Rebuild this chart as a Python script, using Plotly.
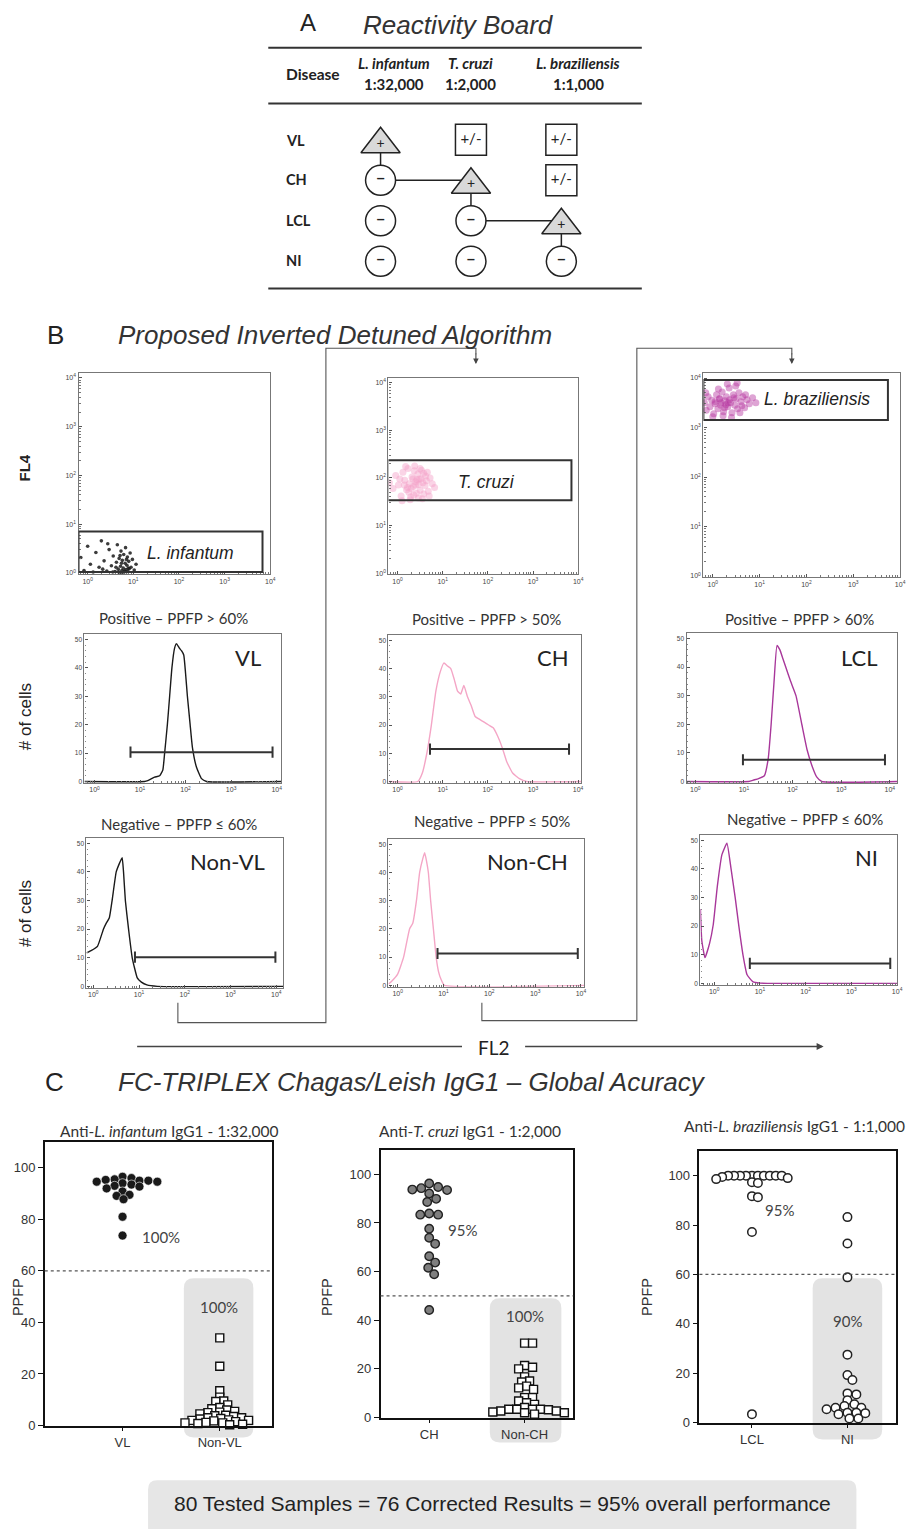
import plotly.graph_objects as go

# page has an 8px body margin: figure placed at (8,8) inside the 922x1529 window
OX, OY = 8, 8
FW, FH = 922 - OX, 1529 - OY

# ---------------- Panel A: reactivity board ----------------
board_rows = ["VL", "CH", "LCL", "NI"]
board_species = ["L. infantum", "T. cruzi", "L. braziliensis"]
board_dilutions = ["1:32,000", "1:2,000", "1:1,000"]
board_calls = [["+", "+/-", "+/-"],
               ["-", "+", "+/-"],
               ["-", "-", "+"],
               ["-", "-", "-"]]

# ---------------- Panel B: FL2 x FL4 dot plots (log10 units) ----------------
li_log_fl2 = [-0.15, -0.08, 0.0, 0.06, 0.12, 0.18, 0.25, 0.3, 0.36, 0.42, 0.47, 0.52, 0.56, 0.6, 0.63, 0.65, 0.67,
              0.69, 0.7, 0.72, 0.73, 0.75, 0.76, 0.78, 0.79, 0.8, 0.82, 0.83, 0.84, 0.86, 0.87, 0.88, 0.9, 0.91, 0.93,
              0.95, 0.98, 1.02, 1.06, 0.68, 0.74, 0.81, 0.85, 0.89, 0.71, 0.77, 0.62, 0.55, 0.44, 0.33]
li_log_fl4 = [0.32, 0.05, 0.55, 0.18, 0.02, 0.42, 0.12, 0.66, 0.25, 0.04, 0.48, 0.15, 0.35, 0.03, 0.22, 0.58, 0.08,
              0.3, 0.01, 0.14, 0.45, 0.05, 0.26, 0.1, 0.38, 0.02, 0.2, 0.52, 0.07, 0.16, 0.33, 0.03, 0.24, 0.09, 0.41,
              0.12, 0.28, 0.06, 0.18, 0.02, 0.2, 0.04, 0.28, 0.1, 0.36, 0.01, 0.12, 0.02, 0.6, 0.08]
tc_log_fl2 = [-0.18, -0.1, -0.04, 0.02, 0.08, 0.12, 0.16, 0.2, 0.23, 0.26, 0.29, 0.32, 0.35, 0.37, 0.4, 0.42, 0.45,
              0.47, 0.5, 0.52, 0.55, 0.58, 0.61, 0.64, 0.68, 0.72, 0.77, 0.82, 0.1, 0.18, 0.28, 0.38, 0.48, 0.58, 0.3,
              0.43, 0.53, 0.22, 0.34, 0.46, 0.62, 0.05, 0.25, 0.4, 0.56, 0.7, 0.15, 0.36, 0.5, 0.66]
tc_log_fl4 = [1.9, 1.78, 2.05, 1.85, 1.62, 2.12, 1.95, 1.75, 2.2, 1.88, 1.6, 2.02, 1.82, 2.15, 1.92, 1.68, 2.08, 1.86,
              1.74, 1.98, 1.56, 2.1, 1.84, 1.94, 1.72, 2.0, 1.88, 1.8, 1.52, 2.24, 1.54, 2.25, 1.98, 1.66, 1.78, 1.96,
              2.16, 1.8, 1.98, 1.58, 2.04, 1.98, 1.7, 1.85, 1.9, 1.62, 1.85, 1.64, 2.2, 2.12]
lb_log_fl2 = [-0.18, -0.14, -0.1, -0.06, -0.02, 0.02, 0.05, 0.08, 0.11, 0.14, 0.17, 0.2, 0.23, 0.26, 0.29, 0.32, 0.35,
              0.38, 0.41, 0.44, 0.47, 0.5, 0.53, 0.56, 0.6, 0.64, 0.68, 0.73, 0.78, 0.85, 0.92, -0.15, 0.0, 0.12, 0.22,
              0.31, 0.4, 0.49, 0.58, 0.7, 0.05, 0.18, 0.28, 0.36, 0.45, 0.25, 0.33, 0.15, 0.52, 0.62]
lb_log_fl4 = [3.5, 3.35, 3.62, 3.42, 3.55, 3.28, 3.48, 3.66, 3.38, 3.58, 3.45, 3.72, 3.32, 3.54, 3.62, 3.42, 3.8, 3.5,
              3.3, 3.66, 3.45, 3.58, 3.38, 3.7, 3.52, 3.62, 3.4, 3.56, 3.48, 3.6, 3.5, 3.7, 3.22, 3.78, 3.24, 3.88, 3.2,
              3.84, 3.3, 3.66, 3.52, 3.5, 3.46, 3.56, 3.6, 3.4, 3.5, 3.58, 3.9, 3.44]
# gates: (FL2 lo, FL2 hi, FL4 lo, FL4 hi) in log10 units
li_gate = (-0.2, 3.83, 0.02, 0.85)
tc_gate = (-0.22, 3.85, 1.53, 2.37)
lb_gate = (-0.2, 3.74, 3.15, 3.96)

# ---------------- Panel B: FL2 histograms (log10 FL2, # of cells) ----------------
vl_log_fl2 = [-0.22, 1.1, 1.17, 1.32, 1.43, 1.5, 1.54, 1.6, 1.65, 1.7, 1.76, 1.8, 1.86, 1.91, 1.96, 2.0, 2.04, 2.1,
              2.15, 2.24, 2.35, 2.46, 4.1]
vl_cells = [0, 0, 0.3, 1.5, 2, 4, 10, 20, 30, 40, 47, 48.5, 47, 46, 44.5, 38, 30, 20, 12, 5, 1, 0, 0]
ch_log_fl2 = [-0.2, 0.45, 0.55, 0.65, 0.75, 0.85, 0.95, 1.03, 1.1, 1.18, 1.26, 1.33, 1.4, 1.47, 1.55, 1.63, 1.72,
              1.82, 1.92, 2.02, 2.12, 2.22, 2.32, 2.42, 2.55, 2.7, 2.86, 4.07]
ch_cells = [0, 0, 3, 10, 20, 32, 39, 42, 41, 40, 36, 32, 31, 34, 30, 27, 23, 22, 21, 20, 19, 16, 12, 7, 3, 1, 0, 0]
lcl_log_fl2 = [-0.18, 1.1, 1.2, 1.3, 1.42, 1.5, 1.56, 1.62, 1.68, 1.74, 1.8, 1.86, 1.96, 2.07, 2.19, 2.3, 2.41, 2.5,
               2.6, 4.15]
lcl_cells = [0, 0, 0.5, 1, 2, 8, 20, 35, 47.5, 46, 43, 40, 35, 30, 20, 11, 5, 1.5, 0, 0]
nvl_log_fl2 = [-0.15, -0.05, 0.09, 0.22, 0.28, 0.35, 0.41, 0.5, 0.57, 0.63, 0.66, 0.7, 0.77, 0.85, 0.96, 1.05, 1.17,
               1.4, 4.15]
nvl_cells = [11.7, 12.5, 14, 20, 22, 24, 30, 40, 43, 45, 40, 30, 20, 10, 3, 1.5, 0.5, 0, 0]
nch_log_fl2 = [-0.2, -0.13, 0.0, 0.13, 0.26, 0.33, 0.41, 0.48, 0.55, 0.59, 0.63, 0.67, 0.72, 0.78, 0.84, 0.89, 0.95,
               1.02, 4.07]
nch_cells = [0.5, 1.5, 4, 10, 20, 22, 30, 40, 45, 47, 44, 40, 30, 20, 10, 5, 2, 0, 0]
ni_log_fl2 = [-0.3, -0.27, -0.2, -0.1, -0.02, 0.07, 0.17, 0.28, 0.37, 0.46, 0.54, 0.63, 0.72, 0.85, 1.0, 1.17, 4.0]
ni_cells = [26, 15, 9, 14, 20.5, 34, 45, 49, 40, 30, 20, 10, 3, 0.5, 0.1, 0, 0]
# histogram marker gates: (log10 FL2 lo, log10 FL2 hi, level)
vl_gate = (0.79, 3.91, 10.3)
ch_gate = (0.72, 3.8, 11.5)
lcl_gate = (0.98, 3.9, 7.6)
nvl_gate = (0.91, 3.98, 10.2)
nch_gate = (0.87, 3.93, 11.3)
ni_gate = (0.78, 3.85, 7.0)

# ---------------- Panel C: PPFP per group ----------------
vl_ppfp = [96.5, 96, 95.5, 95.3, 95, 95, 94.6, 94.6, 94, 93.5, 93, 92.7, 92, 90.8, 89.5, 89.1, 87.8, 81, 73.7]
nonvl_ppfp = [34, 23, 13.5, 11, 9.5, 9.3, 8, 7, 6.5, 6, 5.5, 5.2, 5, 4.5, 4, 3.8, 3.5, 3, 3, 2.7, 2.5, 2.2, 2, 2,
              1.8, 1.5, 1.2, 1, 1, 0.8, 0.5, 0.3]
ch_ppfp = [96.2, 94.8, 94.3, 93.7, 93.5, 92.1, 89.9, 88.6, 83.9, 83.4, 83.4, 77.6, 73.9, 71.4, 66.3, 63.7, 61.6,
           58.9, 44.2]
nonch_ppfp = [30.6, 30.6, 21.4, 20.7, 20, 16.7, 15, 14.6, 12.9, 12.2, 11.6, 8.2, 8.2, 6.8, 6.1, 5.4, 4.1, 3.4, 3.4,
              3.4, 3.4, 3.2, 2.7, 2.7, 2.3, 2, 2, 1.4]
lcl_ppfp = [100, 100, 100, 100, 100, 100, 100, 100, 100, 100, 99.5, 99, 98.6, 97.3, 97, 91.7, 91.3, 77.2, 3.4]
ni_ppfp = [83.2, 72.5, 58.8, 27.5, 19.2, 17.2, 11.8, 11.4, 9, 7.4, 6.7, 6, 6, 5.4, 4, 4, 3.8, 3.4, 1.6, 1.6]
cutoffs = [60, 50, 60]

CAL = "Lato, 'Open Sans', sans-serif"
ARI = "'Liberation Sans', Arial, sans-serif"

fig = go.Figure()
layout = {}
annotations = []
shapes = []


def PX(x):
    return (x - OX) / FW


def PY(y):
    return 1 - (y - OY) / FH


def ref(n, a):
    return a if n == 1 else f"{a}{n}"


def key(n, a):
    return f"{a}axis" if n == 1 else f"{a}axis{n}"


def dom(box):
    l, t, r, b = box
    return [PX(l), PX(r)], [PY(b), PY(t)]


def pa(x, y, text, size=12, family=CAL, color="#222", xanchor="center", yanchor="middle", angle=0):
    annotations.append(dict(x=PX(x), y=PY(y), xref="paper", yref="paper", text=text, showarrow=False,
                            font=dict(size=size, family=family, color=color), xanchor=xanchor,
                            yanchor=yanchor, textangle=angle))


def pline(pts, color="#555", width=1.2):
    path = "M " + " L ".join(f"{PX(x):.5f},{PY(y):.5f}" for x, y in pts)
    shapes.append(dict(type="path", path=path, xref="paper", yref="paper",
                       line=dict(color=color, width=width)))


def rrect(x0, y0, x1, y1, r, fill):
    def P(x, y):
        return f"{PX(x):.5f},{PY(y):.5f}"
    path = (f"M {P(x0 + r, y0)} L {P(x1 - r, y0)} Q {P(x1, y0)} {P(x1, y0 + r)} L {P(x1, y1 - r)} "
            f"Q {P(x1, y1)} {P(x1 - r, y1)} L {P(x0 + r, y1)} Q {P(x0, y1)} {P(x0, y1 - r)} "
            f"L {P(x0, y0 + r)} Q {P(x0, y0)} {P(x0 + r, y0)} Z")
    shapes.append(dict(type="path", path=path, xref="paper", yref="paper", fillcolor=fill,
                       line=dict(width=0), layer="below"))


decade_vals = [1, 10, 100, 1000, 10000]
decade_text = [f"10<sup>{i}</sup>" for i in range(5)]
minor_vals = [m * 10 ** d for d in range(-1, 4) for m in range(2, 10)]


def log_axis(box_dom, anchor, rng):
    return dict(domain=box_dom, anchor=anchor, type="log", range=rng, showline=True, linecolor="#777",
                linewidth=1.3, mirror=True, ticks="inside", ticklen=3, tickwidth=1, tickcolor="#555",
                tickvals=decade_vals, ticktext=decade_text, tickfont=dict(size=7, color="#444", family=ARI),
                showgrid=False, zeroline=False,
                minor=dict(ticks="inside", ticklen=2, tickwidth=0.8, tickcolor="#777",
                           tickmode="array", tickvals=minor_vals, showgrid=False))


# ================= Panel A =================
n = 1
xd, yd = dom((270, 105, 646, 290))
layout[key(n, "x")] = dict(domain=xd, anchor="y", range=[-1.242, 2.89], visible=False)
layout[key(n, "y")] = dict(domain=yd, anchor="x", range=[3.673, -0.872], visible=False)
stair_x, stair_y = [], []
for c in range(len(board_species)):
    r = [row[c] for row in board_calls].index("+")
    stair_x += [c, c]
    stair_y += [r, r + 1]
fig.add_trace(go.Scatter(x=stair_x, y=stair_y, mode="lines", line=dict(color="#222", width=1.5),
                         xaxis="x", yaxis="y", hoverinfo="skip"))
sym_style = {"+": ("triangle-up", 34, "#d9d9d9", 0.11, "+", 14),
             "-": ("circle", 30, "white", 0.0, "<b>−</b>", 16),
             "+/-": ("square", 31, "white", 0.0, "+/-", 15)}
for call, (sym, size, fill, dy, label, fs) in sym_style.items():
    xs, ys, tx = [], [], []
    for r, row in enumerate(board_calls):
        for c, v in enumerate(row):
            if v == call:
                xs.append(c)
                ys.append(r + dy)
                tx.append(label)
    fig.add_trace(go.Scatter(x=xs, y=ys, mode="markers+text", text=tx, textposition="middle center",
                             textfont=dict(size=fs, family=CAL, color="#222"),
                             marker=dict(symbol=sym, size=size, color=fill, line=dict(color="#222", width=1.5)),
                             xaxis="x", yaxis="y", hoverinfo="skip"))
pa(310, 23, "A", 24, ARI, "#222")
pa(461, 25, "<i>Reactivity Board</i>", 26, ARI, "#333")
pline([(270, 48), (646, 48)], "#333", 2)
pline([(270, 104), (646, 104)], "#333", 2)
pline([(270, 290), (646, 290)], "#333", 2)
pa(315, 74, "<b>Disease</b>", 15.5, CAL)
hdr_x = [397, 474, 582]
for i, sp in enumerate(board_species):
    pa(hdr_x[i], 63, f"<b><i>{sp}</i></b>", 15, CAL)
    pa(hdr_x[i], 84, f"<b>{board_dilutions[i]}</b>", 15, CAL)
row_y = [141, 180, 222, 262]
for i, rl in enumerate(board_rows):
    pa(286, row_y[i], f"<b>{rl}</b>", 14.5, CAL, xanchor="left")

# ================= Panel B =================
pa(56, 337, "B", 26, ARI, "#222")
pa(117, 337, "<i>Proposed Inverted Detuned Algorithm</i>", 26, ARI, "#333", xanchor="left")

scatter_specs = [
    (2, (79, 375, 272, 577), li_log_fl2, li_log_fl4, "#1a1a1a", 3.6, 0.85, li_gate, "L. infantum", (192, 556)),
    (3, (391, 380, 582, 577), tc_log_fl2, tc_log_fl4, "#f5a0c8", 7, 0.45, tc_gate, "T. cruzi", (490, 485)),
    (4, (708, 375, 906, 580), lb_log_fl2, lb_log_fl4, "#b5359f", 7, 0.45, lb_gate, "L. braziliensis", (822, 401)),
]
for n, box, lx, ly, col, msz, op, gate, lab, lpos in scatter_specs:
    xd, yd = dom(box)
    layout[key(n, "x")] = log_axis(xd, ref(n, "y"), [-0.2, 4.0])
    layout[key(n, "y")] = log_axis(yd, ref(n, "x"), [-0.02, 4.1])
    fig.add_trace(go.Scatter(x=[10 ** v for v in lx], y=[10 ** v for v in ly], mode="markers",
                             marker=dict(size=msz, color=col, opacity=op, line=dict(width=0)),
                             xaxis=ref(n, "x"), yaxis=ref(n, "y"), hoverinfo="skip"))
    shapes.append(dict(type="rect", xref=ref(n, "x"), yref=ref(n, "y"),
                       x0=10 ** gate[0], x1=10 ** gate[1], y0=10 ** gate[2], y1=10 ** gate[3],
                       line=dict(color="#333", width=2)))
    pa(lpos[0], lpos[1], f"<i>{lab}</i>", 17.5, ARI, "#222")

hist_specs = [
    (5, (85, 637, 283, 787), [-0.22, 4.1], vl_log_fl2, vl_cells, "#1a1a1a", vl_gate, "VL", (250, 661)),
    (6, (391, 638, 585, 787), [-0.2, 4.07], ch_log_fl2, ch_cells, "#f4a6c6", ch_gate, "CH", (557, 661)),
    (7, (691, 636, 903, 787), [-0.18, 4.15], lcl_log_fl2, lcl_cells, "#a8379a", lcl_gate, "LCL", (865, 661)),
    (8, (87, 842, 285, 993), [-0.15, 4.15], nvl_log_fl2, nvl_cells, "#1a1a1a", nvl_gate, "Non-VL", (229, 866)),
    (9, (391, 843, 588, 992), [-0.2, 4.07], nch_log_fl2, nch_cells, "#f4a6c6", nch_gate, "Non-CH", (531, 866)),
    (10, (705, 839, 903, 990), [-0.3, 4.0], ni_log_fl2, ni_cells, "#a8379a", ni_gate, "NI", (872, 862)),
]
for n, box, xr, lx, cells, col, gate, lab, lpos in hist_specs:
    xd, yd = dom(box)
    layout[key(n, "x")] = log_axis(xd, ref(n, "y"), xr)
    layout[key(n, "y")] = dict(domain=yd, anchor=ref(n, "x"), range=[-0.5, 52], showline=True, linecolor="#777",
                               linewidth=1.3, mirror=True, ticks="inside", ticklen=3, tickcolor="#555",
                               tickvals=[0, 10, 20, 30, 40, 50], tickfont=dict(size=6.5, color="#444", family=ARI),
                               showgrid=False, zeroline=False,
                               minor=dict(ticks="inside", ticklen=1.5, tickcolor="#888", dtick=2, showgrid=False))
    fig.add_trace(go.Scatter(x=[10 ** v for v in lx], y=cells, mode="lines",
                             line=dict(color=col, width=1.4, shape="spline", smoothing=0.4),
                             xaxis=ref(n, "x"), yaxis=ref(n, "y"), hoverinfo="skip"))
    fig.add_trace(go.Scatter(x=[10 ** gate[0], 10 ** gate[1]], y=[gate[2], gate[2]], mode="lines+markers",
                             line=dict(color="#333", width=2),
                             marker=dict(symbol="line-ns", size=8, line=dict(color="#333", width=2)),
                             xaxis=ref(n, "x"), yaxis=ref(n, "y"), hoverinfo="skip"))
    pa(lpos[0], lpos[1], lab, 22, CAL, "#222")

pa(175, 621, "Positive – PPFP > 60%", 15, CAL, "#333")
pa(490, 622, "Positive – PPFP > 50%", 15, CAL, "#333")
pa(805, 622, "Positive – PPFP > 60%", 15, CAL, "#333")
pa(180, 828, "Negative – PPFP ≤ 60%", 15, CAL, "#333")
pa(495, 825, "Negative – PPFP ≤ 50%", 15, CAL, "#333")
pa(810, 823, "Negative – PPFP ≤ 60%", 15, CAL, "#333")
pa(25, 470, "<b>FL4</b>", 15, ARI, "#222", angle=-90)
pa(25, 720, "# of cells", 17, ARI, "#222", angle=-90)
pa(25, 918, "# of cells", 17, ARI, "#222", angle=-90)

# algorithm connectors
pline([(179, 1008), (179, 1028), (328, 1028), (328, 350), (479, 350), (479, 356)], "#555", 1.1)
pline([(485, 1008), (485, 1026), (641, 1026), (641, 350), (797, 350), (797, 356)], "#555", 1.1)
for ax_x in (479, 797):
    annotations.append(dict(x=PX(ax_x), y=PY(366), xref="paper", yref="paper", text="", showarrow=True,
                            ax=0, ay=-12, arrowhead=2, arrowsize=1, arrowwidth=1.1, arrowcolor="#444"))
# FL2 axis arrow
pline([(138, 1052), (465, 1052)], "#444", 1.4)
annotations.append(dict(x=PX(829), y=PY(1052), xref="paper", yref="paper", text="", showarrow=True,
                        ax=-300, ay=0, arrowhead=2, arrowsize=1, arrowwidth=1.4, arrowcolor="#444"))
pa(497, 1053, "FL2", 19, CAL, "#222")

# ================= Panel C =================
pa(55, 1088, "C", 26, ARI, "#222")
pa(117, 1088, "<i>FC-TRIPLEX Chagas/Leish IgG1 – Global Acuracy</i>", 26, ARI, "#333", xanchor="left")


def swarm(vals, ppu_x, ppu_y, dx_min, dy_min):
    """Beeswarm layout with an elliptical exclusion zone (dx_min wide, dy_min tall) in pixels."""
    placed = []
    offs = [0.0] * len(vals)
    order = sorted(range(len(vals)), key=lambda i: -vals[i])
    for i in order:
        y = vals[i] * ppu_y
        k = 0
        found = None
        while found is None:
            cands = [0.0] if k == 0 else [k * 1.0, -k * 1.0]
            for cx in cands:
                if all(((cx - px) / dx_min) ** 2 + ((y - py) / dy_min) ** 2 >= 1.0 for px, py in placed):
                    found = cx
                    break
            k += 1
        placed.append((found, y))
        offs[i] = found / ppu_x
    return offs


dot_specs = [
    (11, (45, 1148, 274, 1433), [-0.8, 1.54], ["VL", "Non-VL"], vl_ppfp, nonvl_ppfp,
     dict(symbol="circle", size=9, color="#1a1a1a", line=dict(color="white", width=0.6)),
     dict(symbol="square", size=8, color="white", line=dict(color="#111", width=1.4)), ((8.5, 5.5), (7.5, 4.5)),
     "Anti-<i>L. infantum</i> IgG1 - 1:32,000", (171, 1137), cutoffs[0],
     ("100%", 162, 1243), ("100%", 220, 1314), (185, 1285, 255, 1445), 18),
    (12, (383, 1156, 577, 1425), [-0.51, 1.51], ["CH", "Non-CH"], ch_ppfp, nonch_ppfp,
     dict(symbol="circle", size=8.5, color="#7f7f7f", line=dict(color="#222", width=1.4)),
     dict(symbol="square", size=8, color="white", line=dict(color="#111", width=1.4)), ((9, 8), (8, 5)),
     "Anti-<i>T. cruzi</i> IgG1 - 1:2,000", (473, 1137), cutoffs[1],
     ("95%", 465, 1236), ("100%", 528, 1323), (493, 1305, 565, 1450), 329),
    (13, (704, 1157, 902, 1430), [-0.55, 1.51], ["LCL", "NI"], lcl_ppfp, ni_ppfp,
     dict(symbol="circle", size=8.5, color="white", line=dict(color="#222", width=1.5)),
     dict(symbol="circle", size=8.5, color="white", line=dict(color="#222", width=1.5)), ((6, 5), (8.5, 6)),
     "Anti-<i>L. braziliensis</i> IgG1 - 1:1,000", (800, 1132), cutoffs[2],
     ("95%", 785, 1216), ("90%", 853, 1328), (818, 1285, 888, 1447), 651),
]
for (n, box, xr, cats, pos_vals, neg_vals, m_pos, m_neg, packs, sub, sub_pos, cut,
     lab_pos, lab_neg, shade, ytitle_x) in dot_specs:
    xd, yd = dom(box)
    ppu_x = (box[2] - box[0]) / (xr[1] - xr[0])
    ppu_y = (box[3] - box[1]) / 110.0
    layout[key(n, "x")] = dict(domain=xd, anchor=ref(n, "y"), range=xr, showline=True, linecolor="#111",
                               linewidth=1.5, mirror=True, ticks="outside", ticklen=4, tickwidth=1.2,
                               tickcolor="#111", tickvals=[0, 1], ticktext=cats,
                               tickfont=dict(size=13, family=ARI, color="#333"), showgrid=False, zeroline=False)
    layout[key(n, "y")] = dict(domain=yd, anchor=ref(n, "x"), range=[0, 110], showline=True, linecolor="#111",
                               linewidth=1.5, mirror=True, ticks="outside", ticklen=5, tickwidth=1.2,
                               tickcolor="#111", tickvals=[0, 20, 40, 60, 80, 100],
                               tickfont=dict(size=13, family=ARI, color="#333"), showgrid=False, zeroline=False)
    for ci, (vals, mk) in enumerate(((pos_vals, m_pos), (neg_vals, m_neg))):
        offs = swarm(vals, ppu_x, ppu_y, packs[ci][0], packs[ci][1])
        fig.add_trace(go.Scatter(x=[ci + o for o in offs], y=vals, mode="markers", marker=mk,
                                 cliponaxis=False, xaxis=ref(n, "x"), yaxis=ref(n, "y"), hoverinfo="skip"))
    shapes.append(dict(type="line", xref=f"{ref(n, 'x')} domain", yref=ref(n, "y"), x0=0, x1=1, y0=cut, y1=cut,
                       line=dict(color="#555", width=1.1, dash="dot")))
    rrect(shade[0], shade[1], shade[2], shade[3], 10, "#e3e3e3")
    pa(sub_pos[0], sub_pos[1], sub, 15.5, CAL, "#333")
    pa(lab_pos[1], lab_pos[2], lab_pos[0], 15, CAL, "#444")
    pa(lab_neg[1], lab_neg[2], lab_neg[0], 15, CAL, "#444")
    pa(ytitle_x, 1304, "PPFP", 14.5, ARI, "#333", angle=-90)

# bottom banner
rrect(149, 1488, 862, 1545, 9, "#e6e6e6")
pa(506, 1511, "80 Tested Samples = 76 Corrected Results = 95% overall performance", 21, ARI, "#222")

fig.update_layout(width=FW, height=FH, margin=dict(l=0, r=0, t=0, b=0), paper_bgcolor="white",
                  plot_bgcolor="rgba(0,0,0,0)", showlegend=False, annotations=annotations, shapes=shapes,
                  **layout)
fig.write_html("out.html")
